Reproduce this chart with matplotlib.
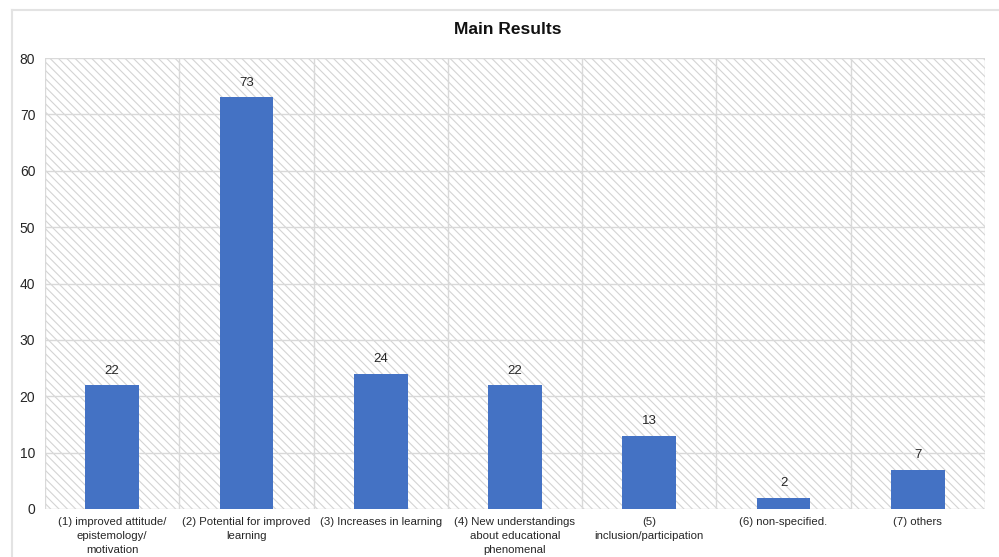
import matplotlib
matplotlib.use("Agg")
import matplotlib.pyplot as plt
from matplotlib.patches import Rectangle
from matplotlib.lines import Line2D

categories = [
    "(1) improved attitude/\nepistemology/\nmotivation",
    "(2) Potential for improved\nlearning",
    "(3) Increases in learning",
    "(4) New understandings\nabout educational\nphenomenal",
    "(5)\ninclusion/participation",
    "(6) non-specified.",
    "(7) others",
]
values = [22, 73, 24, 22, 13, 2, 7]
y_ticks = [0, 10, 20, 30, 40, 50, 60, 70, 80]

plt.rcParams["font.family"] = ["Liberation Sans", "DejaVu Sans"]
plt.rcParams["hatch.linewidth"] = 0.8
plt.rcParams["hatch.color"] = "#d4d4d4"

fig = plt.figure(figsize=(9.99, 5.57), dpi=100)
W, H = 999, 557
ax = fig.add_axes([45 / W, 1 - 509 / H, (985 - 45) / W, (509 - 58) / H])

# outer frame of the chart (top and left edges)
fig.add_artist(Line2D([12 / W, 1.0], [1 - 10 / H, 1 - 10 / H], color="#e3e3e3", lw=1.5,
                      transform=fig.transFigure))
fig.add_artist(Line2D([12 / W, 12 / W], [0, 1 - 10 / H], color="#e3e3e3", lw=1.5,
                      transform=fig.transFigure))

# hatched plot-area background
ax.add_patch(Rectangle((0, 0), 1, 1, transform=ax.transAxes, facecolor="white",
                       edgecolor="#d4d4d4", hatch="\\\\\\\\", lw=0, zorder=0))

x = list(range(len(categories)))
ax.set_xlim(-0.5, len(categories) - 0.5)
ax.set_ylim(0, 80)

# grid: horizontal at ticks, vertical at category boundaries
for yv in y_ticks:
    ax.axhline(yv, color="#d9d9d9", lw=1, zorder=1)
for b in range(len(categories) + 1):
    ax.axvline(b - 0.5, color="#d9d9d9", lw=1, zorder=1)

bars = ax.bar(x, values, width=0.4, color="#4472C4", zorder=2)
for xi, v in zip(x, values):
    ax.annotate(str(v), (xi, v), xytext=(0, 6), textcoords="offset points",
                ha="center", va="bottom", fontsize=9.5, color="#262626")

ax.set_xticks(x)
ax.set_xticklabels(categories, fontsize=8.2, color="#262626", linespacing=1.5)
ax.set_yticks(y_ticks)
ax.set_yticklabels([str(t) for t in y_ticks], fontsize=10, color="#262626")
ax.tick_params(axis="both", length=0)
ax.tick_params(axis="x", pad=6)
ax.tick_params(axis="y", pad=7)
for s in ax.spines.values():
    s.set_visible(False)

fig.text(508 / W, 1 - 30 / H, "Main Results", ha="center", va="center",
         fontsize=12.5, fontweight="bold", color="#111111")

fig.savefig("out.png", dpi=100, facecolor="white")
